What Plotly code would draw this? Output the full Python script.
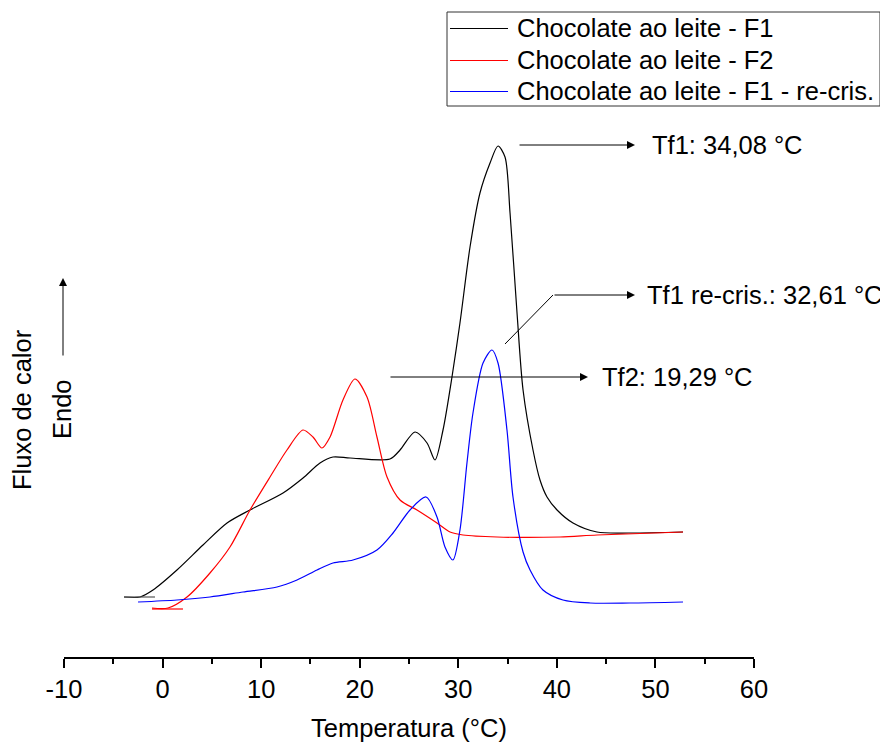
import plotly.graph_objects as go

# ---------------- data ----------------
temp_f1 = [-3.91, -2.29, -0.97, 1.46, 4.10, 6.54, 8.87, 12.22, 14.25, 15.97, 17.29, 19.02,
           23.07, 24.09, 25.61, 26.83, 27.64, 28.45, 29.36, 30.17, 31.19, 32.20, 33.22,
           34.03, 34.74, 35.25, 35.96, 36.57, 37.58, 38.29, 39.00, 40.02, 41.64, 44.07,
           47.42, 52.80]
flux_f1 = [0.60, 0.60, 0.67, 0.87, 1.12, 1.34, 1.47, 1.64, 1.79, 1.94, 2.00, 1.99,
           1.98, 2.07, 2.25, 2.14, 1.97, 2.27, 2.80, 3.34, 4.10, 4.64, 4.94,
           5.11, 5.00, 4.44, 3.44, 2.67, 2.07, 1.77, 1.60, 1.47, 1.34, 1.25,
           1.24, 1.25]

temp_f2 = [-1.07, 0.55, 2.48, 4.81, 6.84, 8.87, 10.90, 12.62, 14.25, 15.26, 16.17, 16.99,
           18.30, 19.52, 20.74, 21.75, 22.77, 24.09, 25.81, 27.84, 29.16, 30.48, 33.93,
           40.32, 44.07, 52.80]
flux_f2 = [0.49, 0.49, 0.60, 0.84, 1.10, 1.47, 1.80, 2.07, 2.27, 2.20, 2.09, 2.20,
           2.57, 2.78, 2.60, 2.20, 1.80, 1.57, 1.47, 1.34, 1.25, 1.22, 1.20,
           1.20, 1.22, 1.25]

temp_rc = [-2.49, 1.46, 4.81, 8.16, 11.61, 13.64, 15.67, 17.29, 19.32, 21.75, 23.38, 25.10,
           26.73, 27.84, 28.65, 29.46, 30.17, 30.88, 31.49, 32.51, 33.42, 34.03, 34.94,
           35.55, 36.57, 37.28, 38.59, 40.62, 43.36, 47.42, 52.80]
flux_rc = [0.55, 0.57, 0.60, 0.65, 0.70, 0.77, 0.87, 0.94, 0.97, 1.07, 1.24, 1.47,
           1.60, 1.40, 1.10, 0.97, 1.27, 1.94, 2.44, 2.94, 3.07, 2.94, 2.27,
           1.60, 1.05, 0.87, 0.67, 0.57, 0.54, 0.54, 0.55]

# short baseline segments at the start of the runs
base_f1_x = [-3.91, -0.77]
base_f1_y = [0.60, 0.60]
base_f2_x = [-1.07, 2.07]
base_f2_y = [0.48, 0.48]

series_names = ["Chocolate ao leite - F1", "Chocolate ao leite - F2",
                "Chocolate ao leite - F1 - re-cris."]
series_colors = ["#000000", "#ff0000", "#0000ff"]

x_ticks = [-10, 0, 10, 20, 30, 40, 50, 60]

# annotation texts
ann_texts = ["Tf1: 34,08 °C", "Tf1 re-cris.: 32,61 °C", "Tf2: 19,29 °C"]

FONT = "Arial, Liberation Sans, sans-serif"
FS = 25.5
BODY = 8                      # default page margin of the html body
W, H = 888 - BODY, 742 - BODY
# plot area in window pixels: x 64..754, y 20..657
ML, MR, MT, MB = 64 - BODY, 888 - 754, 20 - BODY, 742 - 657
PW, PH = 754 - 64, 657 - 20


def px(xp):
    return (xp - 64) / PW


def py(yp):
    return (657 - yp) / PH


fig = go.Figure()
for xs, ys, c in [(temp_f1, flux_f1, series_colors[0]),
                  (temp_f2, flux_f2, series_colors[1]),
                  (temp_rc, flux_rc, series_colors[2])]:
    fig.add_trace(go.Scatter(x=xs, y=ys, mode="lines", showlegend=False,
                             line=dict(color=c, width=1.2, shape="spline", smoothing=0.8)))
fig.add_trace(go.Scatter(x=base_f1_x, y=base_f1_y, mode="lines", showlegend=False,
                         line=dict(color="#555555", width=1.2)))
fig.add_trace(go.Scatter(x=base_f2_x, y=base_f2_y, mode="lines", showlegend=False,
                         line=dict(color="#ff0000", width=1.2)))

annotations = []
shapes = []

# arrows with labels (data coordinates)
arrows = [
    # tail_x, tail_y, head_x, head_y, text_x, text
    (36.06, 5.12, 47.93, 5.12, 49.65, ann_texts[0]),
    (39.61, 3.62, 47.93, 3.62, 49.15, ann_texts[1]),
    (22.97, 2.80, 43.16, 2.80, 44.55, ann_texts[2]),
]
for tx, ty, hx, hy, lx, t in arrows:
    annotations.append(dict(x=hx, y=hy, ax=tx, ay=ty, xref="x", yref="y", axref="x", ayref="y",
                            text="", showarrow=True, arrowhead=2, arrowsize=1.6,
                            arrowwidth=1, arrowcolor="black"))
    annotations.append(dict(x=lx, y=hy, xref="x", yref="y", text=t, showarrow=False,
                            xanchor="left", yanchor="middle", xshift=-2,
                            font=dict(family=FONT, size=FS, color="black")))
# leader line for the re-cris. label
shapes.append(dict(type="line", xref="x", yref="y", x0=34.74, y0=3.13, x1=39.61, y1=3.62,
                   line=dict(color="black", width=1)))

# manual legend
shapes.append(dict(type="rect", xref="paper", yref="paper", x0=px(447), x1=px(880),
                   y0=py(106), y1=py(12), line=dict(color="#333333", width=1),
                   fillcolor="white"))
for i, (name, col) in enumerate(zip(series_names, series_colors)):
    yc = 28 + i * 31.5
    shapes.append(dict(type="line", xref="paper", yref="paper", x0=px(450), x1=px(508),
                       y0=py(round(yc) + 0.5), y1=py(round(yc) + 0.5),
                       line=dict(color=col, width=1)))
    annotations.append(dict(x=px(515), y=py(yc), xref="paper", yref="paper", text=name,
                            showarrow=False, xanchor="left", yanchor="middle",
                            font=dict(family=FONT, size=FS, color="black")))

# y-axis title and Endo arrow
annotations.append(dict(x=px(22), y=py(410), xref="paper", yref="paper", text="Fluxo de calor",
                        textangle=-90, showarrow=False, xanchor="center", yanchor="middle",
                        font=dict(family=FONT, size=FS, color="black")))
annotations.append(dict(x=px(62), y=py(409), xref="paper", yref="paper", text="Endo",
                        textangle=-90, showarrow=False, xanchor="center", yanchor="middle",
                        font=dict(family=FONT, size=FS, color="black")))
annotations.append(dict(x=px(63), y=py(278), ax=0, ay=79, xref="paper", yref="paper",
                        axref="pixel", ayref="pixel", text="", showarrow=True, arrowhead=2,
                        arrowsize=1.6, arrowwidth=1, arrowcolor="black"))

fig.update_layout(
    width=W, height=H,
    margin=dict(l=ML, r=MR, t=MT, b=MB, autoexpand=False),
    paper_bgcolor="white", plot_bgcolor="white",
    font=dict(family=FONT, size=FS, color="black"),
    showlegend=False,
    xaxis=dict(range=[-10, 60], tickvals=x_ticks, ticktext=[str(v) for v in x_ticks],
               automargin=False,
               showline=True, linecolor="black", linewidth=1.5, ticks="outside",
               ticklen=9, tickwidth=1.5, tickcolor="black", showgrid=False, zeroline=False,
               tickfont=dict(family=FONT, size=FS, color="black"),
               minor=dict(dtick=5, tick0=-10, ticks="outside", ticklen=5, tickwidth=1.5,
                          tickcolor="black", showgrid=False),
               title=dict(text="Temperatura (°C)", font=dict(family=FONT, size=FS, color="black"),
                          standoff=18)),
    yaxis=dict(range=[0, PH / 100], visible=False, fixedrange=True, automargin=False),
    annotations=annotations,
    shapes=shapes,
)

fig.write_html("out.html")
